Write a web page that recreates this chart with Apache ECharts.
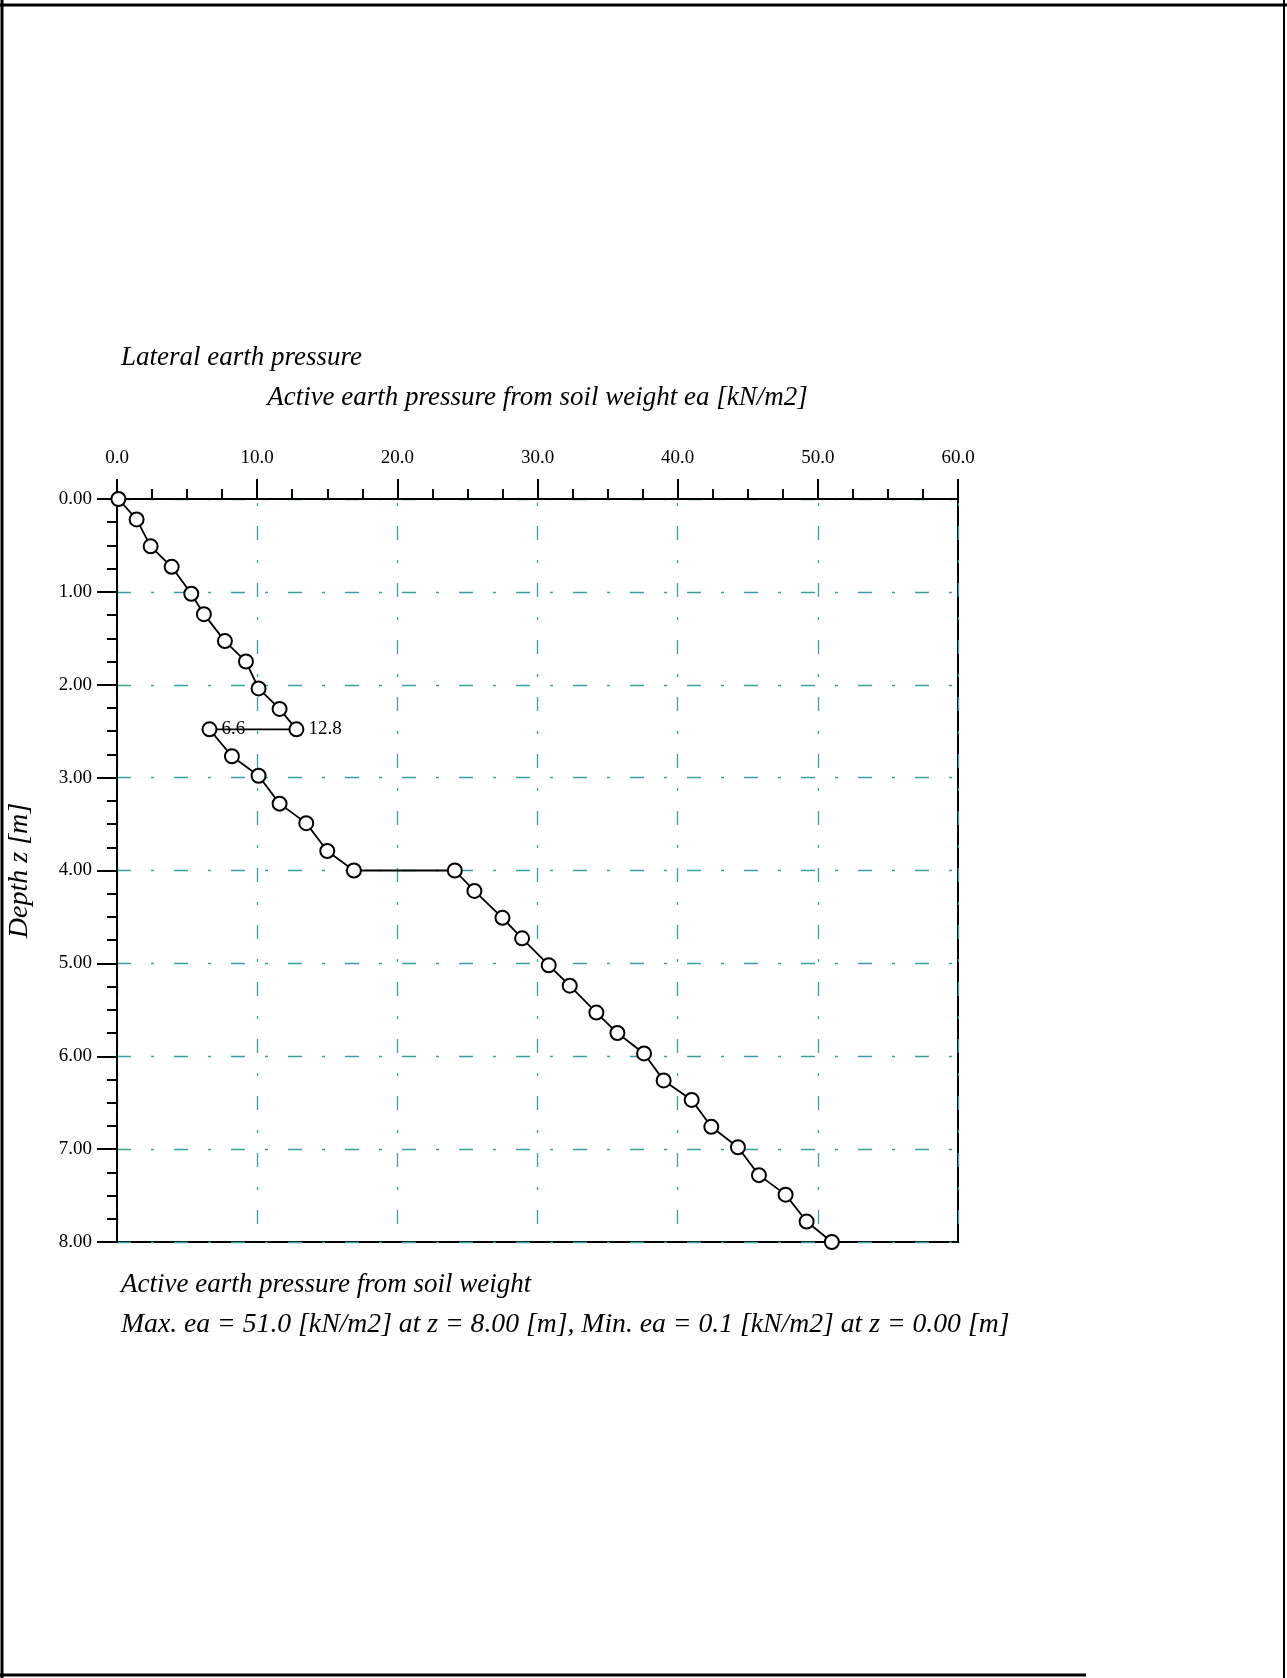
<!DOCTYPE html>
<html>
<head>
<meta charset="utf-8">
<title>Lateral earth pressure</title>
<script src="https://cdn.jsdelivr.net/npm/echarts@6/dist/echarts.min.js"></script>
<style>
  html, body { margin: 0; padding: 0; background: #ffffff; }
  #chart { width: 1287px; height: 1678px; }
</style>
</head>
<body>
<div id="chart"></div>
<script>
// Depth of each calculation point, z [m]
const depthZ = [0.00, 0.22, 0.51, 0.73, 1.02, 1.24, 1.53, 1.75, 2.04, 2.26, 2.48,
                2.48, 2.77, 2.98, 3.28, 3.49, 3.79, 4.00,
                4.00, 4.22, 4.51, 4.73, 5.02, 5.24, 5.53, 5.75, 5.97, 6.26, 6.47,
                6.76, 6.98, 7.28, 7.49, 7.78, 8.00];
// Active earth pressure from soil weight, ea [kN/m2]
const eaValues = [0.1, 1.4, 2.4, 3.9, 5.3, 6.2, 7.7, 9.2, 10.1, 11.6, 12.8,
                  6.6, 8.2, 10.1, 11.6, 13.5, 15.0, 16.9,
                  24.1, 25.5, 27.5, 28.9, 30.8, 32.3, 34.2, 35.7, 37.6, 39.0, 41.0,
                  42.4, 44.3, 45.8, 47.7, 49.2, 51.0];
// Points whose value is written next to the marker (layer boundary jump)
const labelledPoints = [10, 11];

// Axis tick labels
const eaTicks = ['0.0', '10.0', '20.0', '30.0', '40.0', '50.0', '60.0'];
const depthTicks = ['0.00', '1.00', '2.00', '3.00', '4.00', '5.00', '6.00', '7.00', '8.00'];

// Text blocks
const chartTitle = 'Lateral earth pressure';
const xAxisTitle = 'Active earth pressure from soil weight ea [kN/m2]';
const yAxisTitle = 'Depth z [m]';
const summaryTitle = 'Active earth pressure from soil weight';
const summaryLine = 'Max. ea = 51.0 [kN/m2] at z = 8.00 [m], Min. ea = 0.1 [kN/m2] at z = 0.00 [m]';

const SERIF = '"Liberation Serif", "Times New Roman", serif';
const GRID_COLOR = '#3b9e9e';
const DASH = [14, 20, 3, 20];

const seriesData = depthZ.map((z, i) => {
  const item = { value: [eaValues[i], z] };
  if (labelledPoints.includes(i)) {
    item.label = {
      show: true,
      position: 'right',
      distance: 4,
      formatter: (p) => p.value[0].toFixed(1),
      fontFamily: SERIF,
      fontSize: 19,
      color: '#000'
    };
  }
  return item;
});

const chart = echarts.init(document.getElementById('chart'), null, { renderer: 'canvas' });

const axisLineStyle = { color: '#000', width: 2 };

chart.setOption({
  backgroundColor: '#ffffff',
  animation: false,
  grid: {
    left: 117, top: 499, width: 841, height: 743,
    show: true, borderColor: '#000', borderWidth: 2,
    backgroundColor: 'transparent',
    outerBoundsMode: 'none',
    containLabel: false
  },
  xAxis: {
    type: 'value',
    position: 'top',
    min: 0, max: 60, interval: 10,
    name: xAxisTitle,
    nameLocation: 'middle',
    nameGap: 88,
    nameTextStyle: { fontFamily: SERIF, fontStyle: 'italic', fontSize: 27, color: '#000' },
    axisLine: { show: true, onZero: false, lineStyle: axisLineStyle },
    axisTick: { show: true, inside: false, length: 20, lineStyle: axisLineStyle },
    minorTick: { show: true, splitNumber: 4, length: 10, lineStyle: axisLineStyle },
    axisLabel: {
      margin: 31,
      fontFamily: SERIF, fontSize: 19, color: '#000',
      formatter: (v) => eaTicks[Math.round(v / 10)]
    },
    splitLine: {
      show: true,
      lineStyle: { color: GRID_COLOR, width: 1.3, type: DASH, dashOffset: 30 }
    },
    minorSplitLine: { show: false }
  },
  yAxis: {
    type: 'value',
    position: 'left',
    inverse: true,
    min: 0, max: 8, interval: 1,
    name: yAxisTitle,
    nameLocation: 'middle',
    nameRotate: 90,
    nameGap: 83,
    nameTextStyle: { fontFamily: SERIF, fontStyle: 'italic', fontSize: 28, color: '#000' },
    axisLine: { show: true, onZero: false, lineStyle: axisLineStyle },
    axisTick: { show: true, inside: false, length: 20, lineStyle: axisLineStyle },
    minorTick: { show: true, splitNumber: 4, length: 10, lineStyle: axisLineStyle },
    axisLabel: {
      margin: 25,
      fontFamily: SERIF, fontSize: 19, color: '#000',
      formatter: (v) => depthTicks[Math.round(v)]
    },
    splitLine: {
      show: true,
      lineStyle: { color: GRID_COLOR, width: 1.3, type: DASH, dashOffset: 0 }
    },
    minorSplitLine: { show: false }
  },
  series: [{
    type: 'line',
    data: seriesData,
    symbol: 'circle',
    symbolSize: 14,
    showAllSymbol: true,
    lineStyle: { color: '#000', width: 1.8 },
    itemStyle: { color: '#ffffff', borderColor: '#000', borderWidth: 2 },
    emphasis: { disabled: true },
    z: 5
  }],
  graphic: [
    // page frame
    { type: 'line', shape: { x1: 0, y1: 5, x2: 1287, y2: 5 }, style: { stroke: '#000', lineWidth: 3 } },
    { type: 'line', shape: { x1: 2, y1: 0, x2: 2, y2: 1678 }, style: { stroke: '#000', lineWidth: 3 } },
    { type: 'line', shape: { x1: 1284, y1: 0, x2: 1284, y2: 1678 }, style: { stroke: '#000', lineWidth: 2 } },
    { type: 'line', shape: { x1: 0, y1: 1675, x2: 1086, y2: 1675 }, style: { stroke: '#000', lineWidth: 3 } },
    // headings
    { type: 'text', x: 121, y: 358,
      style: { text: chartTitle, font: 'italic 27px ' + SERIF, fill: '#000', align: 'left', verticalAlign: 'middle' } },
    { type: 'text', x: 121, y: 1285,
      style: { text: summaryTitle, font: 'italic 27px ' + SERIF, fill: '#000', align: 'left', verticalAlign: 'middle' } },
    { type: 'text', x: 121, y: 1325,
      style: { text: summaryLine, font: 'italic 27.7px ' + SERIF, fill: '#000', align: 'left', verticalAlign: 'middle' } }
  ]
});
</script>
</body>
</html>
